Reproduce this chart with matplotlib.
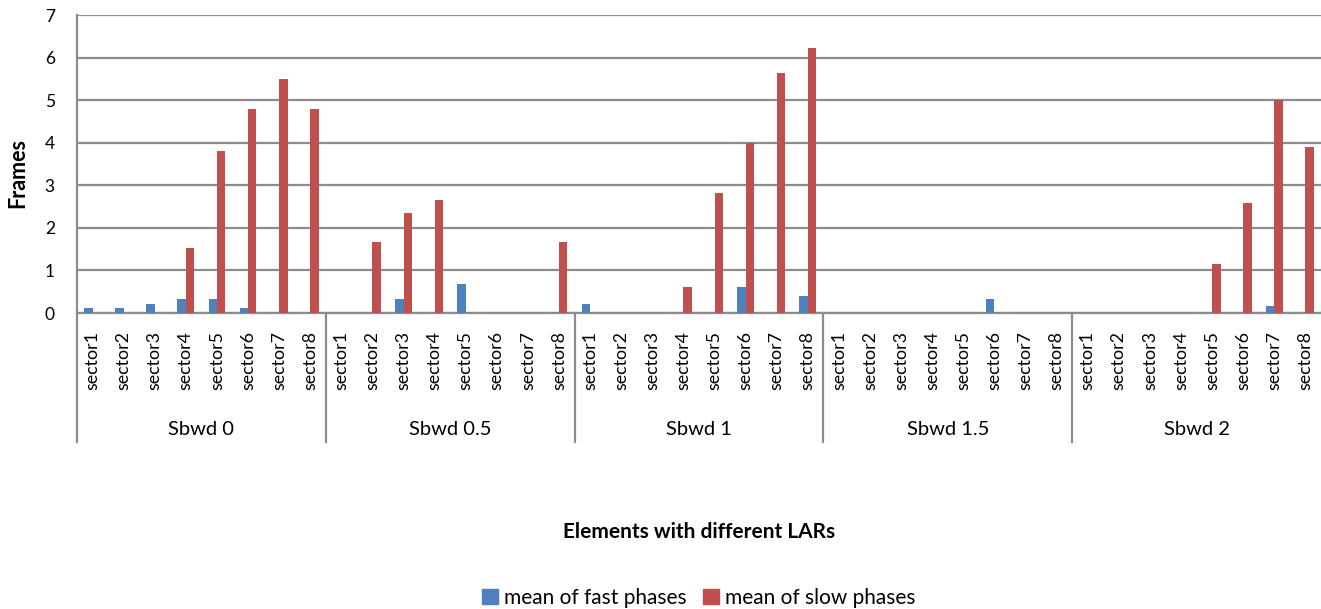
import numpy as np
import matplotlib.pyplot as plt
from matplotlib.patches import Patch
from matplotlib.transforms import blended_transform_factory

plt.rcParams['font.family'] = ['Lato', 'DejaVu Sans']

groups = ['Sbwd 0', 'Sbwd 0.5', 'Sbwd 1', 'Sbwd 1.5', 'Sbwd 2']
sectors = ['sector1', 'sector2', 'sector3', 'sector4',
           'sector5', 'sector6', 'sector7', 'sector8']

# mean of fast phases, one row per group
fast = [[0.12, 0.12, 0.21, 0.33, 0.33, 0.12, 0, 0],
        [0, 0, 0.33, 0, 0.68, 0, 0, 0],
        [0.21, 0, 0, 0, 0, 0.60, 0, 0.41],
        [0, 0, 0, 0, 0, 0.33, 0, 0],
        [0, 0, 0, 0, 0, 0, 0.16, 0]]
# mean of slow phases
slow = [[0, 0, 0, 1.52, 3.81, 4.80, 5.50, 4.80],
        [0, 1.67, 2.35, 2.66, 0, 0, 0, 1.67],
        [0, 0, 0, 0.60, 2.81, 4.00, 5.63, 6.22],
        [0, 0, 0, 0, 0, 0, 0, 0],
        [0, 0, 0, 0, 1.15, 2.58, 5.00, 3.89]]

blue = '#4F81BD'
red = '#C0504D'
gridc = '#8C8C8C'

W, H = 1321, 609
fig = plt.figure(figsize=(W / 100, H / 100), dpi=100)
ax = fig.add_axes([77 / W, (H - 313) / H, (W - 77) / W, (313 - 15) / H])

n = len(sectors)
x = np.arange(len(groups) * n)
fast_all = np.concatenate(fast)
slow_all = np.concatenate(slow)
w = 0.27
ax.bar(x - w / 2, fast_all, w, color=blue, zorder=3)
ax.bar(x + w / 2, slow_all, w, color=red, zorder=3)

ax.set_xlim(-0.5, len(x) - 0.5)
ax.set_ylim(0, 7)
ax.set_yticks(range(8))
ax.yaxis.grid(True, color=gridc, linewidth=1.6, zorder=0)
ax.set_axisbelow(True)
for s in ['top', 'right']:
    ax.spines[s].set_visible(False)
for s in ['left', 'bottom']:
    ax.spines[s].set_color(gridc)
    ax.spines[s].set_linewidth(1.6)
ax.tick_params(axis='y', length=0, pad=16, labelsize=12.5)
ax.set_xticks(x)
ax.set_xticklabels(sectors * len(groups), rotation=90, fontsize=12.8)
ax.tick_params(axis='x', length=0, pad=13)

trans = blended_transform_factory(ax.transData, ax.transAxes)
for g, name in enumerate(groups):
    xs = g * n - 0.5
    ax.plot([xs, xs], [0, -0.433], transform=trans, color=gridc,
            linewidth=1.6, clip_on=False)
    ax.text(g * n + (n - 1) / 2, -0.39, name, transform=trans,
            ha='center', va='center', fontsize=14.5)

fig.text(18 / W, 1 - 173 / H, 'Frames', rotation=90, ha='center',
         va='center', fontsize=15.5, fontweight='bold')
fig.text(699 / W, 1 - 532 / H, 'Elements with different LARs',
         ha='center', va='center', fontsize=15, fontweight='bold')

handles = [Patch(color=blue, label='mean of fast phases'),
           Patch(color=red, label='mean of slow phases')]
fig.legend(handles=handles, loc='center', ncol=2, frameon=False,
           bbox_to_anchor=(699 / W, 1 - 598 / H), fontsize=15,
           handlelength=0.75, handleheight=0.75, handletextpad=0.3,
           columnspacing=0.8)

fig.savefig('out.png', dpi=100)
